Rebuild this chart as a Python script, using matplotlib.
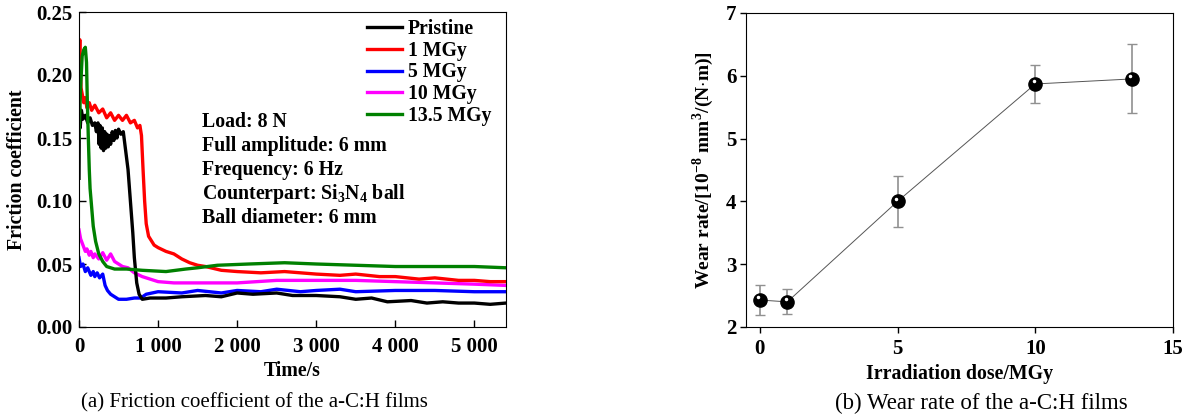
"""Friction coefficient and wear rate of a-C:H films."""
import matplotlib

matplotlib.use("Agg")

import matplotlib.pyplot as plt
import numpy as np

plt.rcParams["font.family"] = ["Liberation Serif", "DejaVu Serif"]
plt.rcParams["mathtext.fontset"] = "custom"
plt.rcParams["mathtext.rm"] = "Liberation Serif"
plt.rcParams["mathtext.bf"] = "Liberation Serif:bold"

# (a) friction coefficient curves: time (s) and value
pristine_t = [0, 5, 15, 30, 50, 80, 110, 140, 170, 200, 220, 240, 255, 265, 280,
              295, 310, 325, 340, 355, 370, 385, 400, 420, 440, 460, 480, 500,
              530, 560, 590, 620, 650, 680, 700, 730, 760, 800, 900, 1100, 1300,
              1600, 1800, 2000, 2200, 2500, 2700, 3000, 3300, 3500, 3700, 3900,
              4200, 4400, 4600, 4800, 5000, 5200, 5400]
pristine_f = [0.118, 0.175, 0.158, 0.172, 0.165, 0.168, 0.162, 0.166, 0.160,
              0.162, 0.155, 0.162, 0.145, 0.160, 0.142, 0.158, 0.140, 0.155,
              0.142, 0.153, 0.143, 0.152, 0.145, 0.155, 0.148, 0.156, 0.150,
              0.157, 0.153, 0.155, 0.140, 0.125, 0.100, 0.075, 0.055, 0.035,
              0.026, 0.022, 0.023, 0.023, 0.024, 0.025, 0.024, 0.027, 0.026,
              0.027, 0.025, 0.025, 0.024, 0.022, 0.023, 0.020, 0.021, 0.019,
              0.020, 0.019, 0.019, 0.018, 0.019]

mgy1_t = [0, 10, 25, 40, 60, 80, 100, 130, 160, 200, 250, 300, 350, 400, 450,
          500, 550, 600, 650, 700, 740, 770, 790, 810, 830, 850, 880, 920, 950,
          1000, 1100, 1200, 1300, 1400, 1500, 1600, 1800, 2000, 2300, 2600,
          3000, 3300, 3500, 3800, 4000, 4300, 4500, 4800, 5000, 5200, 5400]
mgy1_f = [0.210, 0.228, 0.190, 0.185, 0.178, 0.182, 0.174, 0.178, 0.172, 0.176,
          0.170, 0.173, 0.166, 0.170, 0.164, 0.168, 0.164, 0.168, 0.162, 0.164,
          0.158, 0.160, 0.152, 0.125, 0.100, 0.082, 0.072, 0.068, 0.065, 0.063,
          0.060, 0.058, 0.054, 0.051, 0.049, 0.048, 0.045, 0.044, 0.043, 0.044,
          0.042, 0.041, 0.042, 0.040, 0.040, 0.038, 0.039, 0.037, 0.037, 0.036,
          0.036]

mgy5_t = [0, 20, 50, 80, 110, 150, 180, 200, 230, 260, 300, 330, 360, 400, 450,
          500, 600, 700, 780, 850, 1000, 1300, 1500, 1800, 2000, 2300, 2500,
          2800, 3000, 3300, 3500, 4000, 4500, 5000, 5400]
mgy5_f = [0.055, 0.048, 0.050, 0.044, 0.047, 0.041, 0.044, 0.040, 0.043, 0.039,
          0.042, 0.033, 0.029, 0.026, 0.024, 0.022, 0.022, 0.023, 0.023, 0.026,
          0.028, 0.027, 0.029, 0.027, 0.029, 0.028, 0.030, 0.028, 0.029, 0.030,
          0.028, 0.029, 0.029, 0.028, 0.028]

mgy10_t = [0, 20, 50, 80, 100, 130, 150, 180, 200, 250, 300, 350, 400, 450,
           500, 550, 620, 700, 800, 900, 1000, 1200, 1500, 2000, 2500, 3000,
           3500, 4000, 4500, 5000, 5400]
mgy10_f = [0.077, 0.070, 0.065, 0.060, 0.062, 0.057, 0.060, 0.055, 0.058,
           0.054, 0.059, 0.053, 0.058, 0.052, 0.050, 0.048, 0.047, 0.043,
           0.040, 0.038, 0.036, 0.035, 0.035, 0.035, 0.037, 0.037, 0.037,
           0.036, 0.035, 0.034, 0.033]

mgy135_t = [0, 20, 40, 60, 80, 95, 105, 118, 130, 140, 160, 180, 210, 250, 300,
            350, 450, 600, 800, 1100, 1350, 1500, 1750, 2150, 2600, 3000, 3500,
            4000, 4500, 5000, 5400]
mgy135_f = [0.150, 0.190, 0.215, 0.220, 0.222, 0.210, 0.180, 0.150, 0.125, 0.110,
            0.095, 0.080, 0.068, 0.058, 0.052, 0.048, 0.046, 0.046, 0.045, 0.044,
            0.046, 0.047, 0.049, 0.050, 0.051, 0.050, 0.049, 0.048, 0.048, 0.048,
            0.047]

labels = ["Pristine", "1 MGy", "5 MGy", "10 MGy", "13.5 MGy"]
colors = ["black", "red", "blue", "magenta", "green"]
conditions = ["Load: 8 N", "Full amplitude: 6 mm", "Frequency: 6 Hz",
              "Counterpart: Si$_\\mathbf{3}$N$_\\mathbf{4}$ ball",
              "Ball diameter: 6 mm"]

# (b) wear rate
dose = [0, 1, 5, 10, 13.5]
wear = [2.43, 2.40, 4.00, 5.87, 5.95]
wear_err = [0.24, 0.20, 0.40, 0.30, 0.55]

fig = plt.figure(figsize=(11.89, 4.17), dpi=100)
ax1 = fig.add_axes([79 / 1189, 1 - 327 / 417, 427 / 1189, 315 / 417])
ax2 = fig.add_axes([746 / 1189, 1 - 327 / 417, 427 / 1189, 314 / 417])

series = [(pristine_t, pristine_f), (mgy1_t, mgy1_f), (mgy5_t, mgy5_f),
          (mgy10_t, mgy10_f), (mgy135_t, mgy135_f)]
draw_order = [3, 2, 0, 1, 4]
handles = {}
for i in draw_order:
    t, f = series[i]
    (h,) = ax1.plot(t, f, color=colors[i], lw=2.4, label=labels[i])
    handles[i] = h

ax1.set_xlim(0, 5400)
ax1.set_ylim(0, 0.25)
ax1.set_xticks([0, 1000, 2000, 3000, 4000, 5000])
ax1.set_xticklabels(["0", "1 000", "2 000", "3 000", "4 000", "5 000"])
ax1.set_yticks(np.arange(0, 0.26, 0.05))
ax1.set_yticklabels([f"{v:.2f}" for v in np.arange(0, 0.26, 0.05)])
ax1.tick_params(direction="in", length=5, labelsize=15, width=1)
ax1.tick_params(axis="x", pad=7)
ax1.tick_params(axis="y", pad=5)
for lab in ax1.get_xticklabels() + ax1.get_yticklabels():
    lab.set_fontweight("bold")
ax1.set_xlabel("Time/s", fontsize=14.3, fontweight="bold", labelpad=3)
ax1.set_ylabel("Friction coefficient", fontsize=14.3, fontweight="bold",
               labelpad=6)
ax1.legend([handles[i] for i in range(5)], labels, loc="upper left",
           frameon=False, prop={"weight": "bold", "size": 14.2},
           handlelength=1.78, handletextpad=0.3, labelspacing=0.09,
           borderpad=0, borderaxespad=0,
           bbox_to_anchor=((367 - 79) / 427, 0.978))
y0 = 1 - (122 - 12) / 315
for k, line in enumerate(conditions):
    ax1.text((202 - 79) / 427, y0 - k * 24 / 315, line, transform=ax1.transAxes,
             fontsize=14.3, fontweight="bold", va="center", ha="left")

ax2.errorbar(dose, wear, yerr=wear_err, fmt="none", ecolor="#909090",
             elinewidth=1.2, capsize=3.5, capthick=1, zorder=2)
ax2.plot(dose, wear, color="#555555", lw=0.7, zorder=3)
ax2.plot(dose, wear, "o", color="black", ms=9.5, zorder=4)
ax2.plot(np.array(dose) - 0.06, np.array(wear) + 0.04, "o", color="white",
         ms=1.5, zorder=5)
ax2.set_xlim(-0.5, 15)
ax2.set_ylim(2, 7)
ax2.set_xticks([0, 5, 10, 15])
ax2.set_yticks([2, 3, 4, 5, 6, 7])
ax2.tick_params(direction="out", length=4, labelsize=15, width=1)
ax2.tick_params(axis="x", pad=5)
ax2.tick_params(axis="y", pad=3)
for lab in ax2.get_xticklabels() + ax2.get_yticklabels():
    lab.set_fontweight("bold")
ax2.set_xlabel("Irradiation dose/MGy", fontsize=14.3, fontweight="bold",
               labelpad=3)
ax2.set_ylabel("Wear rate/[10$^{\\mathbf{-8}}$ mm$^\\mathbf{3}$/(N$\\cdot$m)]",
               fontsize=14, fontweight="bold", labelpad=7)

fig.text(254.5 / 1189, 1 - 403 / 417, "(a) Friction coefficient of the a-C:H films",
         fontsize=15, ha="center", va="center")
fig.text(981.5 / 1189, 1 - 403 / 417, "(b) Wear rate of the a-C:H films",
         fontsize=16.5, ha="center", va="center")

fig.savefig("out.png", dpi=100)
